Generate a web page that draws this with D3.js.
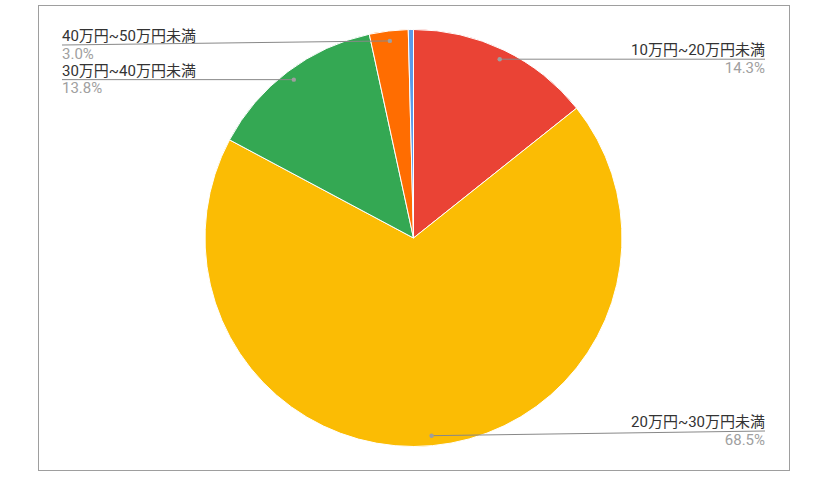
<!DOCTYPE html>
<html>
<head>
<meta charset="utf-8">
<title>pie</title>
<style>
  body { margin: 0; background: #fff; }
  svg text { font-family: Roboto, "Noto Sans CJK JP", sans-serif; font-size: 15px; }
  .lbl { fill: #333; }
  .pct { fill: #a0a0a0; }
</style>
</head>
<body>
<svg width="816" height="489"></svg>
<script src="https://cdn.jsdelivr.net/npm/d3@7"></script>
<script>
// データ（時計回り、12時の位置から）
var categories = ["10万円~20万円未満", "20万円~30万円未満", "30万円~40万円未満", "40万円~50万円未満", "50万円以上"];
var shares     = [14.3, 68.5, 13.8, 3.0, 0.4];
var colors     = ["#ea4335", "#fbbc04", "#34a853", "#ff6d01", "#5a9bea"];
var showLabel  = [true, true, true, true, false];

var svg = d3.select("svg"),
    frame = {x: 38, y: 5, w: 751, h: 465},
    cx = 413.5, cy = 238, r = 208.5;

svg.append("rect")
  .attr("x", frame.x + 0.5).attr("y", frame.y + 0.5)
  .attr("width", frame.w).attr("height", frame.h)
  .attr("fill", "#fff").attr("stroke", "#9e9e9e").attr("stroke-width", 1);

var data = categories.map(function(c, i) {
  return {name: c, value: shares[i], color: colors[i], label: showLabel[i]};
});

var pie = d3.pie().sort(null).value(function(d) { return d.value; });
var arc = d3.arc().innerRadius(0).outerRadius(r);
var dotArc = d3.arc().innerRadius(r - 10).outerRadius(r - 10);
var arcs = pie(data);

var g = svg.append("g").attr("transform", "translate(" + cx + "," + cy + ")");

g.selectAll("path.slice")
  .data(arcs)
  .enter().append("path")
  .attr("class", "slice")
  .attr("d", arc)
  .attr("fill", function(d) { return d.data.color; })
  .attr("stroke", "#fff")
  .attr("stroke-width", 1);

// ラベル（左右に振り分け）
var leftX = 62 - cx, rightX = 765 - cx;
var yMin = 45 - cy, yMax = 431 - cy;

var labels = g.selectAll("g.label")
  .data(arcs.filter(function(d) { return d.data.label; }))
  .enter().append("g").attr("class", "label");

labels.each(function(d) {
  var p = dotArc.centroid(d),
      mid = (d.startAngle + d.endAngle) / 2,
      right = mid < Math.PI,
      ly = Math.max(yMin, Math.min(yMax, p[1])),
      ex = right ? rightX : leftX,
      sel = d3.select(this);

  sel.append("line")
    .attr("x1", p[0]).attr("y1", p[1])
    .attr("x2", ex).attr("y2", ly)
    .attr("stroke", "#888").attr("stroke-width", 1);

  sel.append("circle")
    .attr("cx", p[0]).attr("cy", p[1]).attr("r", 2.2)
    .attr("fill", "#9e9e9e");

  sel.append("text")
    .attr("class", "lbl")
    .attr("x", ex).attr("y", ly - 4)
    .attr("text-anchor", right ? "end" : "start")
    .text(d.data.name);

  sel.append("text")
    .attr("class", "pct")
    .attr("x", ex).attr("y", ly + 13.5)
    .attr("text-anchor", right ? "end" : "start")
    .text(d3.format(".1f")(d.data.value) + "%");
});
</script>
</body>
</html>
